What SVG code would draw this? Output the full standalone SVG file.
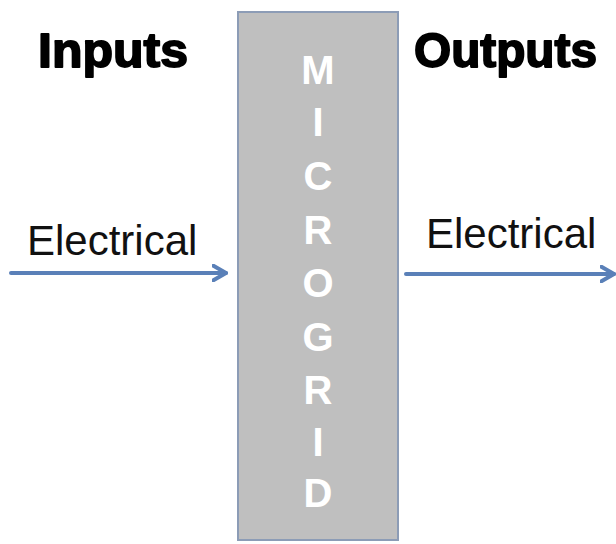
<svg xmlns="http://www.w3.org/2000/svg" width="616" height="544" viewBox="0 0 616 544">
<style>
.hdr{font-family:"Liberation Sans",Arial,sans-serif;font-weight:bold;font-size:49px;fill:#000;stroke:#000;stroke-width:1.8;stroke-linejoin:round}
.lbl{font-family:"Liberation Sans",Arial,sans-serif;font-size:42px;fill:#111}
.let{font-family:"Liberation Sans",Arial,sans-serif;font-weight:bold;font-size:40px;fill:#fff;text-anchor:middle}
.arr{stroke:#5a80b8;stroke-width:4;fill:none;stroke-linecap:round}
</style>
<defs>
<marker id="ah" viewBox="0 0 10 10" refX="8" refY="5" markerWidth="4.5" markerHeight="4.5" orient="auto" markerUnits="strokeWidth">
<path d="M1,1 L8,5 L1,9" fill="none" stroke="#5a80b8" stroke-width="2.2" stroke-linecap="round" stroke-linejoin="round"/>
</marker>
</defs>
<rect width="616" height="544" fill="#fff"/>
<g id="microgrid">
<rect x="238" y="12" width="160" height="528" fill="#bfbfbf" stroke="#8c9cb6" stroke-width="2"/>
<text class="let" x="318" y="84">M</text>
<text class="let" x="318" y="136">I</text>
<text class="let" x="318" y="190">C</text>
<text class="let" x="318" y="244">R</text>
<text class="let" x="318" y="297">O</text>
<text class="let" x="318" y="351">G</text>
<text class="let" x="318" y="404">R</text>
<text class="let" x="318" y="456">I</text>
<text class="let" x="318" y="507">D</text>
</g>
<g id="inputs">
<text class="hdr" x="38" y="67" textLength="150" lengthAdjust="spacingAndGlyphs">Inputs</text>
<text class="lbl" x="27" y="255">Electrical</text>
</g>
<g id="outputs">
<text class="hdr" x="414" y="67" textLength="183" lengthAdjust="spacingAndGlyphs">Outputs</text>
<text class="lbl" x="426" y="248">Electrical</text>
</g>
<g id="connectors">
<line class="arr" x1="11" y1="273" x2="226" y2="273" marker-end="url(#ah)"/>
<line class="arr" x1="406" y1="274" x2="614" y2="274" marker-end="url(#ah)"/>
</g>
</svg>
